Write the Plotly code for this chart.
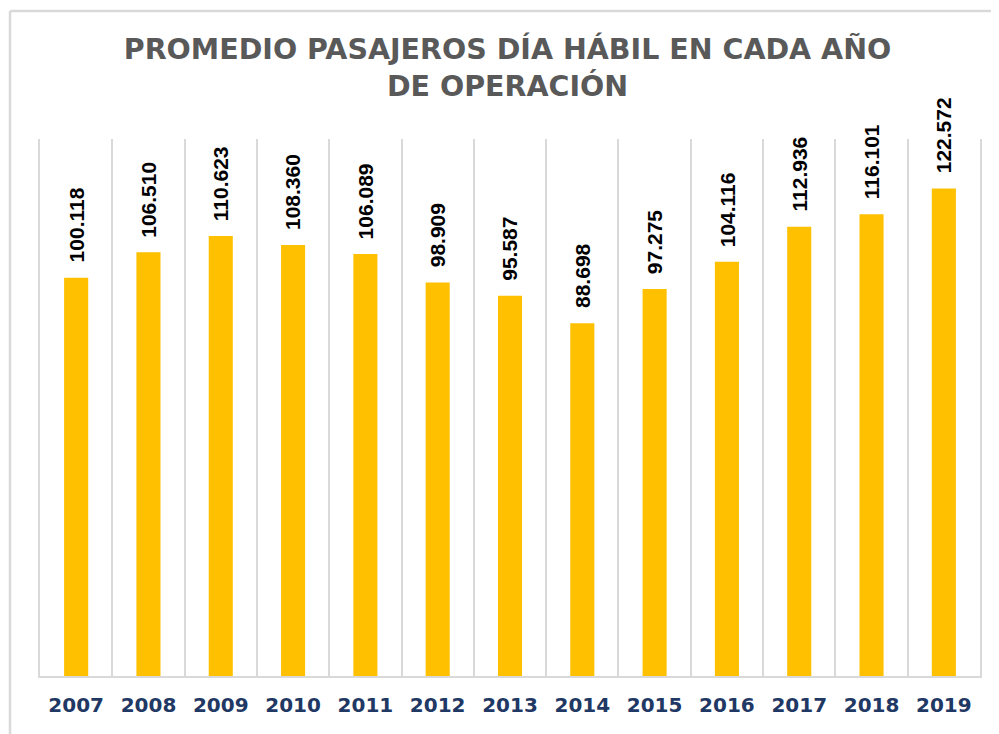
import plotly.graph_objects as go

years = ['2007', '2008', '2009', '2010', '2011', '2012', '2013', '2014', '2015', '2016', '2017', '2018', '2019']
pasajeros = [100118, 106510, 110623, 108360, 106089, 98909, 95587, 88698, 97275, 104116, 112936, 116101, 122572]
etiquetas = ['100.118', '106.510', '110.623', '108.360', '106.089', '98.909', '95.587', '88.698', '97.275', '104.116', '112.936', '116.101', '122.572']

titulo = 'PROMEDIO PASAJEROS DÍA HÁBIL EN CADA AÑO<br>DE OPERACIÓN'

grid_color = '#D9D9D9'

fig = go.Figure()
fig.add_trace(go.Bar(x=years, y=pasajeros, marker=dict(color='#FFC000', line=dict(width=0)), hoverinfo='skip'))

# data labels, rotated, sitting above each bar (x given as category index)
for i, (value, label) in enumerate(zip(pasajeros, etiquetas)):
    fig.add_annotation(x=i, y=value, text=label, textangle=-90, showarrow=False,
                       xanchor='center', yanchor='bottom', yshift=13,
                       font=dict(family='Liberation Sans', size=21, color='#000000', weight='bold'))

# outer frame of the chart (only top and left edges are visible)
fig.add_shape(type='line', xref='paper', yref='paper', x0=-0.0319, x1=1.05, y0=1.2384, y1=1.2384,
              line=dict(color=grid_color, width=2.5))
fig.add_shape(type='line', xref='paper', yref='paper', x0=-0.0319, x1=-0.0319, y0=1.2384, y1=-0.2,
              line=dict(color=grid_color, width=2.5))

# the page body has an 8px margin, so the figure is laid out 8px up/left
fig.update_layout(width=999, height=734, margin=dict(l=32, r=27, t=131, b=66),
                  title=dict(text=titulo, x=0.5, xanchor='center', y=1-51/734, yanchor='middle', yref='container',
                             font=dict(family='DejaVu Sans', size=28.5, color='#595959', weight='bold')),
                  bargap=0.667, showlegend=False, plot_bgcolor='white', paper_bgcolor='white',
                  xaxis=dict(type='category', range=[-0.5, 12.5], automargin=False, tickangle=0,
                             tickson='boundaries', showgrid=True, gridcolor=grid_color, gridwidth=2,
                             showline=True, linecolor=grid_color, linewidth=2, ticks='', ticklabelstandoff=10,
                             tickfont=dict(family='DejaVu Sans', size=20, color='#1F3864', weight='bold')),
                  yaxis=dict(range=[0, 135000], automargin=False, showgrid=False, zeroline=False, showticklabels=False,
                             showline=True, mirror=True, linecolor=grid_color, linewidth=2))

fig.write_html('out.html')
